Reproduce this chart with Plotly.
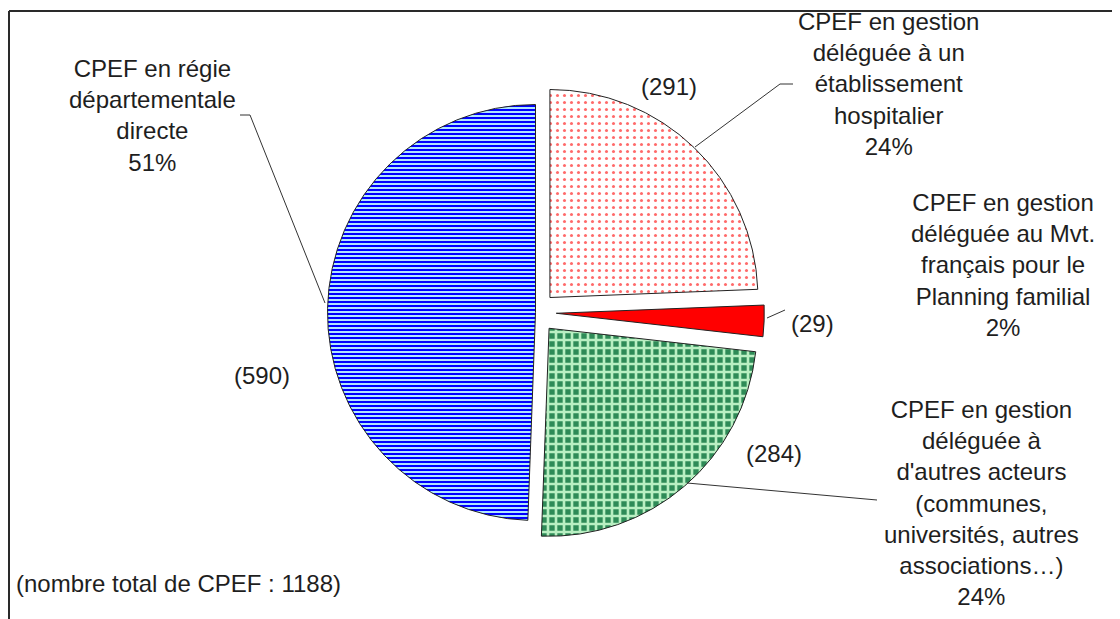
import plotly.graph_objects as go

# ---- data ----
categories = [
    "CPEF en gestion déléguée à un établissement hospitalier",
    "CPEF en gestion déléguée au Mvt. français pour le Planning familial",
    "CPEF en gestion déléguée à d'autres acteurs (communes, universités, autres associations…)",
    "CPEF en régie départementale directe",
]
counts = [291, 29, 284, 590]
percents = ["24%", "2%", "24%", "51%"]
label_lines = [
    ["CPEF en gestion", "déléguée à un", "établissement", "hospitalier"],
    ["CPEF en gestion", "déléguée au Mvt.", "français pour le", "Planning familial"],
    ["CPEF en gestion", "déléguée à", "d'autres acteurs", "(communes,", "universités, autres", "associations…)"],
    ["CPEF en régie", "départementale", "directe"],
]
total_note = "(nombre total de CPEF : 1188)"

W, H = 1120, 619
OFF = 8  # page body margin


def px(x, y):
    return (x - OFF) / W, 1 - (y - OFF) / H


cx, cy, R = 535.5, 312.5, 208.0
half = R * 1.1
d_x0, d_y1 = px(cx - half, cy - half)
d_x1, d_y0 = px(cx + half, cy + half)

fig = go.Figure()
fig.add_trace(go.Pie(
    labels=categories,
    values=counts,
    sort=False,
    direction="clockwise",
    rotation=0,
    pull=[0.1, 0.1, 0.1, 0.0],
    textinfo="none",
    hoverinfo="label+value+percent",
    showlegend=False,
    domain=dict(x=[d_x0, d_x1], y=[d_y0, d_y1]),
    marker=dict(
        colors=["#ffffff", "#ff0000", "#3c9a62", "#0000ff"],
        line=dict(color="#222222", width=1),
        pattern=dict(
            shape=[".", "", "+", "-"],
            fgcolor=["#ff6a6a", "#ff0000", "#b9efc2", "#0000ff"],
            bgcolor=["#ffffff", "#ff0000", "#2e8b57", "#aee6ff"],
            size=[7, 8, 8, 4],
            solidity=[0.15, 0.5, 0.55, 0.5],
        ),
    ),
))

font = dict(family="Liberation Sans, Arial, sans-serif", size=24, color="#1e1e1e")

# category labels (name + percentage)
label_pos = [(888, 83.5), (1003, 265), (981, 502.5), (152, 115.5)]
annotations = []
for lines, pct, (x, y) in zip(label_lines, percents, label_pos):
    ax, ay = px(x, y)
    annotations.append(dict(x=ax, y=ay, xref="paper", yref="paper", showarrow=False,
                            xanchor="center", yanchor="middle", align="center",
                            text="<br>".join(lines + [pct]), font=font))

# value labels
value_pos = [(669, 87), (812, 323), (774, 453), (262, 375)]
for c, (x, y) in zip(counts, value_pos):
    ax, ay = px(x, y)
    annotations.append(dict(x=ax, y=ay, xref="paper", yref="paper", showarrow=False,
                            xanchor="center", yanchor="middle",
                            text=f"({c})", font=font))

ax, ay = px(14, 583)
annotations.append(dict(x=ax, y=ay, xref="paper", yref="paper", showarrow=False,
                        xanchor="left", yanchor="middle", text=total_note, font=font))

# leader lines
leaders = [
    [(793, 84), (780, 84), (695, 147)],
    [(767, 318), (785, 310)],
    [(877, 500), (687, 483)],
    [(240, 115), (250, 115), (325, 303)],
]
shapes = []
for pts in leaders:
    for (x0, y0), (x1, y1) in zip(pts[:-1], pts[1:]):
        a0, b0 = px(x0, y0)
        a1, b1 = px(x1, y1)
        shapes.append(dict(type="line", xref="paper", yref="paper", x0=a0, y0=b0, x1=a1, y1=b1,
                           line=dict(color="#333333", width=1)))

# frame (top and left borders)
for (x0, y0, x1, y1) in [(9, 11, 1135, 11), (9, 11, 9, 635)]:
    a0, b0 = px(x0, y0)
    a1, b1 = px(x1, y1)
    shapes.append(dict(type="line", xref="paper", yref="paper", x0=a0, y0=b0, x1=a1, y1=b1,
                       line=dict(color="#2a2a2a", width=2)))

fig.update_layout(
    width=W, height=H,
    margin=dict(l=0, r=0, t=0, b=0),
    paper_bgcolor="white", plot_bgcolor="white",
    annotations=annotations,
    shapes=shapes,
)

fig.write_html("out.html")
